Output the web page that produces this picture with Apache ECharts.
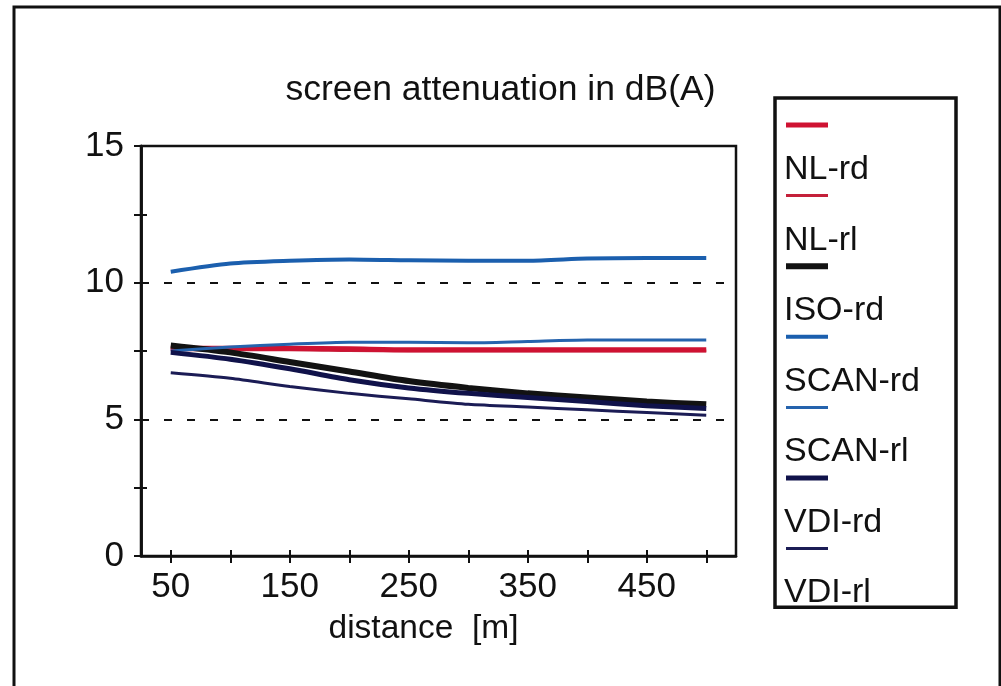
<!DOCTYPE html>
<html>
<head>
<meta charset="utf-8">
<script src="https://cdn.jsdelivr.net/npm/echarts@6/dist/echarts.min.js"></script>
<style>
html,body{margin:0;padding:0;background:#fff;}
#chart{width:1001px;height:686px;}
</style>
</head>
<body>
<div id="chart"></div>
<script>
const distances = ['50','100','150','200','250','300','350','400','450','500'];
const seriesNames = ['NL-rd','NL-rl','ISO-rd','SCAN-rd','SCAN-rl','VDI-rd','VDI-rl'];
const nlRd   = [7.6, 7.6, 7.6, 7.58, 7.55, 7.55, 7.55, 7.55, 7.55, 7.55];
const nlRl   = [7.55, 7.55, 7.55, 7.52, 7.5, 7.5, 7.5, 7.5, 7.5, 7.5];
const isoRd  = [7.7, 7.45, 7.1, 6.75, 6.4, 6.15, 5.95, 5.8, 5.65, 5.55];
const scanRd = [10.4, 10.7, 10.8, 10.85, 10.82, 10.8, 10.8, 10.88, 10.9, 10.9];
const scanRl = [7.5, 7.65, 7.75, 7.82, 7.82, 7.8, 7.85, 7.9, 7.9, 7.9];
const vdiRd  = [7.45, 7.2, 6.85, 6.45, 6.15, 5.95, 5.8, 5.65, 5.5, 5.4];
const vdiRl  = [6.7, 6.5, 6.2, 5.95, 5.75, 5.55, 5.45, 5.35, 5.25, 5.15];
const yTicks = [0, 5, 10, 15];

const chart = echarts.init(document.getElementById('chart'), null, {renderer: 'canvas'});
const FONT = '"Liberation Sans", Arial, Helvetica, sans-serif';

function mk(name, data, color, width) {
  return {
    name: name, type: 'line', data: data, symbol: 'none', smooth: 0.25,
    xAxisIndex: 0, yAxisIndex: 0,
    lineStyle: {color: color, width: width}, itemStyle: {color: color},
    emphasis: {disabled: true}, animation: false
  };
}

const valueAxisBase = {
  type: 'value', min: yTicks[0], max: yTicks[yTicks.length - 1], interval: 5,
  axisLine: {show: true, lineStyle: {color: '#111', width: 2.5}}
};

const option = {
  animation: false,
  backgroundColor: '#fff',
  title: {
    text: 'screen attenuation in dB(A)', left: 'center', top: 67,
    textStyle: {fontFamily: FONT, fontSize: 35.5, fontWeight: 'normal', color: '#111'}
  },
  grid: {left: 141, right: 265, top: 146, bottom: 130, show: true, borderColor: '#111', borderWidth: 2.5, backgroundColor: 'transparent'},
  legend: [
    {
      data: seriesNames, orient: 'vertical', left: 775, top: 98,
      itemWidth: 42, itemHeight: 14, itemGap: 58,
      padding: [20, 125, 53, 8],
      formatter: function () { return ''; },
      lineStyle: {width: 'inherit'},
      itemStyle: {opacity: 0},
      backgroundColor: '#fff', borderColor: '#111', borderWidth: 3.5,
      selectedMode: false, z: 3
    },
    {
      data: seriesNames.map(n => ({name: n, icon: 'rect'})), orient: 'vertical', left: 778, top: 153,
      itemWidth: 1, itemHeight: 30, itemGap: 36.5, padding: 0,
      itemStyle: {opacity: 0}, lineStyle: {opacity: 0},
      textStyle: {fontFamily: FONT, fontSize: 34, color: '#111'},
      selectedMode: false, z: 6
    }
  ],
  graphic: [{
    type: 'rect', shape: {x: 14, y: 7, width: 986, height: 700},
    style: {fill: 'none', stroke: '#111', lineWidth: 3}, silent: true, z: 100
  }],
  xAxis: [
    {
      type: 'category', data: distances, boundaryGap: true,
      name: 'distance  [m]', nameLocation: 'middle', nameGap: 56,
      nameTextStyle: {fontFamily: FONT, fontSize: 33.5, color: '#111', padding: [0, 30, 0, 0]},
      axisLine: {show: true, lineStyle: {color: '#111', width: 2.5}},
      axisTick: {show: true, alignWithLabel: true, interval: 0, length: 7, lineStyle: {color: '#111', width: 2}},
      axisLabel: {interval: 1, fontFamily: FONT, fontSize: 35, color: '#111', margin: 14},
      splitLine: {show: false}
    },
    {
      type: 'category', data: distances, boundaryGap: true, position: 'bottom',
      axisLine: {show: false},
      axisTick: {show: true, inside: true, alignWithLabel: true, interval: 0, length: 6, lineStyle: {color: '#111', width: 2}},
      axisLabel: {show: false}, splitLine: {show: false}
    }
  ],
  yAxis: [
    Object.assign({}, valueAxisBase, {
      axisTick: {show: true, length: 7, lineStyle: {color: '#111', width: 2}},
      minorTick: {show: true, splitNumber: 2, length: 7, lineStyle: {color: '#111', width: 2}},
      axisLabel: {fontFamily: FONT, fontSize: 35, color: '#111', margin: 17},
      splitLine: {show: true, lineStyle: {color: '#111', type: [8, 15], width: 2}}
    }),
    Object.assign({}, valueAxisBase, {
      position: 'left',
      axisTick: {show: true, inside: true, length: 6, lineStyle: {color: '#111', width: 2}},
      minorTick: {show: true, splitNumber: 2, length: 6, lineStyle: {color: '#111', width: 2}},
      axisLabel: {show: false}, splitLine: {show: false}
    })
  ],
  series: [
    mk('NL-rl', nlRl, '#c4203a', 3),
    mk('NL-rd', nlRd, '#cf1232', 5),
    mk('ISO-rd', isoRd, '#121212', 6),
    mk('SCAN-rd', scanRd, '#1b5fae', 4),
    mk('SCAN-rl', scanRl, '#2563ad', 3),
    mk('VDI-rd', vdiRd, '#10124a', 5),
    mk('VDI-rl', vdiRl, '#1b1c55', 3)
  ]
};
chart.setOption(option);
</script>
</body>
</html>
